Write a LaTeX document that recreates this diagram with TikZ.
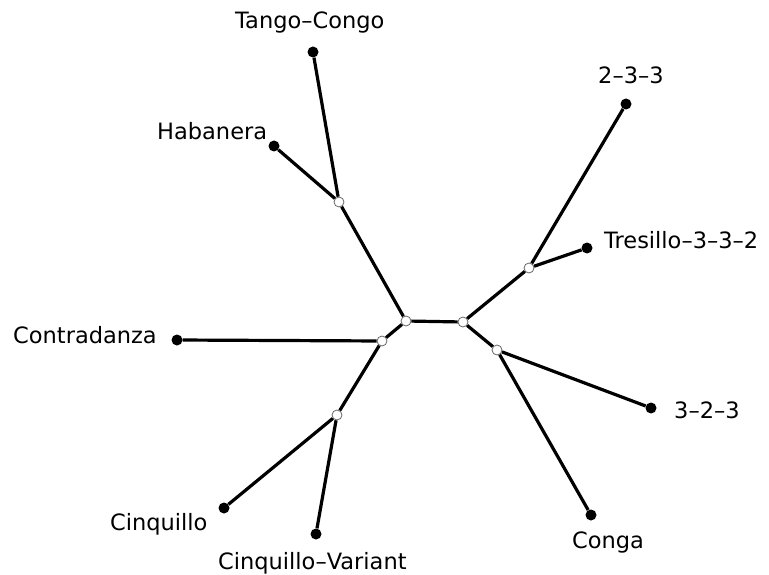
\documentclass[tikz,border=0pt]{standalone}
\usepackage{fontspec}
\setmainfont{DejaVu Sans}
\begin{document}
\begin{tikzpicture}[x=1pt,y=-1pt,
  leaf/.style={circle,fill=black,inner sep=0pt,minimum size=11pt},
  inner/.style={circle,draw=black!60,fill=white,line width=0.8pt,inner sep=0pt,minimum size=10pt},
  lbl/.style={anchor=base west,inner sep=0pt,font=\fontsize{22.5}{26}\selectfont},
  edge/.style={line width=3.2pt}]
\useasboundingbox[fill=white] (0,0) rectangle (769,575);
% leaves
\node[leaf] (tc) at (313,52) {};
\node[leaf] (hab) at (274,146) {};
\node[leaf] (t233) at (626,104) {};
\node[leaf] (tres) at (587,248) {};
\node[leaf] (t323) at (651,408) {};
\node[leaf] (conga) at (591,515) {};
\node[leaf] (contra) at (177,340) {};
\node[leaf] (cinq) at (224,508) {};
\node[leaf] (cinqv) at (316,534) {};
% inner nodes
\node[inner] (A) at (339,202) {};
\node[inner] (B) at (406,321) {};
\node[inner] (C) at (463,322) {};
\node[inner] (D) at (382,341) {};
\node[inner] (E) at (497,350) {};
\node[inner] (F) at (529,268) {};
\node[inner] (G) at (337,415) {};
% edges
\begin{scope}[on background layer/.style={}]
\draw[edge] (tc) -- (A) (hab) -- (A) (A) -- (B) (B) -- (C) (B) -- (D)
  (D) -- (contra) (D) -- (G) (G) -- (cinq) (G) -- (cinqv)
  (C) -- (F) (F) -- (t233) (F) -- (tres) (C) -- (E) (E) -- (t323) (E) -- (conga);
\end{scope}
% labels
\node[lbl] (ltc) at (235,29) {Tango–Congo};
\node[lbl] (lhab) at (157,140) {Habanera};
\node[lbl] (l233) at (598,84) {2–3–3};
\node[lbl] (ltres) at (604,248) {Tresillo–3–3–2};
\node[lbl] (l323) at (674,418) {3–2–3};
\node[lbl] (lconga) at (572,548) {Conga};
\node[lbl] (lcontra) at (13,343) {Contradanza};
\node[lbl] (lcinq) at (110,530) {Cinquillo};
\node[lbl] (lcinqv) at (218,569) {Cinquillo–Variant};
\end{tikzpicture}
\end{document}
